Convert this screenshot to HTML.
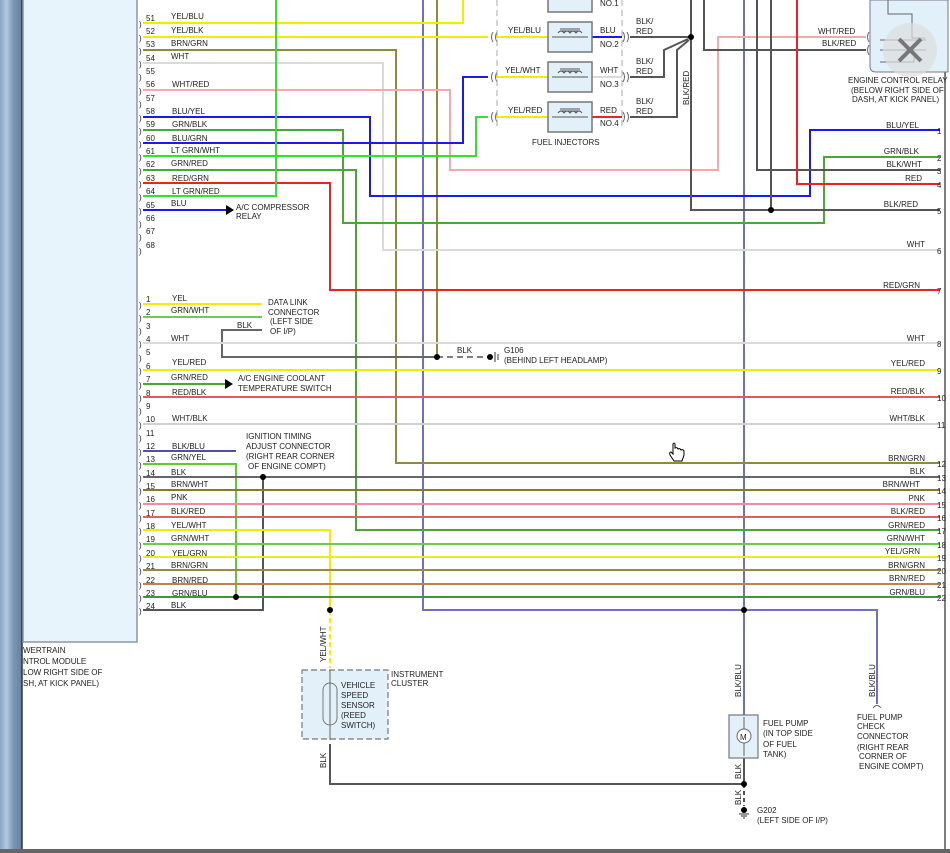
<!DOCTYPE html>
<html><head><meta charset="utf-8"><style>
html,body{margin:0;padding:0;background:#fff;}
svg{display:block;}
text{font-family:"Liberation Sans",sans-serif;font-size:8px;fill:#222;}
</style></head><body>
<svg width="950" height="853" viewBox="0 0 950 853" xmlns="http://www.w3.org/2000/svg">
<defs>
<linearGradient id="lg" x1="0" x2="1" y1="0" y2="0">
<stop offset="0" stop-color="#8aa4c4"/><stop offset="0.3" stop-color="#b4cae4"/><stop offset="0.6" stop-color="#7c96b6"/><stop offset="1" stop-color="#667f9e"/></linearGradient>
</defs>
<rect x="0" y="0" width="950" height="853" fill="#fff"/>
<rect x="0" y="0" width="22" height="853" fill="url(#lg)"/>
<line x1="22" y1="0" x2="22" y2="853" stroke="#2a3442" stroke-width="1.5"/>
<rect x="23" y="-2" width="114" height="644" fill="#e8f4fc" stroke="#8898a8" stroke-width="1.5"/>
<text x="23" y="653">WERTRAIN</text>
<text x="23" y="664">NTROL MODULE</text>
<text x="23" y="675">LOW RIGHT SIDE OF</text>
<text x="23" y="686">SH, AT KICK PANEL)</text>
<line x1="945" y1="0" x2="945" y2="853" stroke="#555" stroke-width="1.5"/>
<rect x="0" y="849" width="950" height="4" fill="#666"/>

<g fill="none" stroke-width="2">
<polyline points="423,0 423,610 877,610 877,704" stroke="#7070c0"/>
<line x1="744" y1="0" x2="744" y2="715" stroke="#7070c0"/>
<line x1="437" y1="0" x2="437" y2="357" stroke="#8c8c3c"/>
<polyline points="143,23 463,23 463,0" stroke="#eeee00"/>
<line x1="143" y1="37" x2="488" y2="37" stroke="#eeee00"/>
<polyline points="143,50 396,50 396,463 940,463" stroke="#8c8c3c"/>
<polyline points="143,63 383,63 383,250 940,250" stroke="#dadada"/>
<polyline points="143,90 450,90 450,170 718,170 718,37 866,37" stroke="#f4a8a8"/>
<polyline points="143,117 370,117 370,196 810,196 810,130 940,130" stroke="#1a1aee"/>
<polyline points="143,130 343,130 343,223 824,223 824,157 940,157" stroke="#4aa832"/>
<polyline points="143,143 463,143 463,77 488,77" stroke="#1a1aee"/>
<polyline points="143,156 476,156 476,117 488,117" stroke="#33e033"/>
<polyline points="143,170 356,170 356,530 940,530" stroke="#4aa832"/>
<polyline points="143,183 330,183 330,290 940,290" stroke="#ee2222"/>
<polyline points="143,196 276,196 276,0" stroke="#33e033"/>
<line x1="143" y1="210" x2="226" y2="210" stroke="#1a1aee"/>
<polyline points="691,0 691,210 940,210" stroke="#555"/>
<line x1="771" y1="0" x2="771" y2="210" stroke="#555"/>
<polyline points="704,0 704,50 866,50" stroke="#555"/>
<polyline points="757,0 757,170 940,170" stroke="#555"/>
<polyline points="797,0 797,184 940,184" stroke="#ee2222"/>
<line x1="630" y1="37" x2="691" y2="37" stroke="#555"/>
<polyline points="630,77 664,77 664,50 688,39" stroke="#555"/>
<polyline points="630,117 677,117 677,50 689,40" stroke="#555"/>
<line x1="592" y1="37" x2="622" y2="37" stroke="#1a1aee"/>
<line x1="592" y1="77" x2="622" y2="77" stroke="#dadada"/>
<line x1="592" y1="117" x2="622" y2="117" stroke="#ee2222"/>
<line x1="496" y1="37" x2="548" y2="37" stroke="#eeee00"/>
<line x1="496" y1="77" x2="548" y2="77" stroke="#eeee00"/>
<line x1="496" y1="117" x2="548" y2="117" stroke="#eeee00"/>
<line x1="143" y1="304" x2="262" y2="304" stroke="#eeee00"/>
<line x1="143" y1="317" x2="262" y2="317" stroke="#6ccc50"/>
<polyline points="262,330 222,330 222,357 437,357" stroke="#666"/>
<line x1="143" y1="343" x2="940" y2="343" stroke="#dadada"/>
<line x1="143" y1="370" x2="940" y2="370" stroke="#eeee00"/>
<line x1="143" y1="384" x2="225" y2="384" stroke="#4aa832"/>
<line x1="143" y1="397" x2="940" y2="397" stroke="#ee5555"/>
<line x1="143" y1="424" x2="940" y2="424" stroke="#d0d0d0"/>
<line x1="143" y1="451" x2="236" y2="451" stroke="#5050a0"/>
<polyline points="143,464 236,464 236,597" stroke="#5ccc30"/>
<line x1="143" y1="477" x2="940" y2="477" stroke="#666"/>
<polyline points="263,477 263,610 143,610" stroke="#555"/>
<line x1="143" y1="490" x2="940" y2="490" stroke="#8a7a20"/>
<line x1="143" y1="504" x2="940" y2="504" stroke="#f48aa0"/>
<line x1="143" y1="517" x2="940" y2="517" stroke="#e06060"/>
<polyline points="143,530 330,530 330,610" stroke="#eeee00"/>
<line x1="143" y1="544" x2="940" y2="544" stroke="#6ccc50"/>
<line x1="143" y1="557" x2="940" y2="557" stroke="#e0f020"/>
<line x1="143" y1="570" x2="940" y2="570" stroke="#9a8a40"/>
<line x1="143" y1="584" x2="940" y2="584" stroke="#c08050"/>
<line x1="143" y1="597" x2="940" y2="597" stroke="#3a9a3a"/>
<line x1="330" y1="610" x2="330" y2="668" stroke="#eeee00" stroke-dasharray="5,3"/>
<polyline points="330,744 330,784 744,784" stroke="#555"/>
<line x1="744" y1="758" x2="744" y2="784" stroke="#555"/>
<line x1="744" y1="784" x2="744" y2="806" stroke="#555" stroke-dasharray="4,3"/>
<line x1="437" y1="357" x2="490" y2="357" stroke="#555" stroke-dasharray="6,4" stroke-width="1.5"/>
</g>
<!-- connector glyphs -->
<g fill="none" stroke="#666" stroke-width="1">
<path d="M493,32 q-3,5 0,10 M497,32 q-3,5 0,10"/>
<path d="M493,72 q-3,5 0,10 M497,72 q-3,5 0,10"/>
<path d="M493,112 q-3,5 0,10 M497,112 q-3,5 0,10"/>
<path d="M623,32 q3,5 0,10 M627,32 q3,5 0,10"/>
<path d="M623,72 q3,5 0,10 M627,72 q3,5 0,10"/>
<path d="M623,112 q3,5 0,10 M627,112 q3,5 0,10"/>
<path d="M869,32 q-3,5 0,10 M869,45 q-3,5 0,10"/>
<path d="M873,708 q4,-5 8,0"/>
</g>
<g fill="#000">
<circle cx="691" cy="37" r="3"/><circle cx="771" cy="210" r="3"/>
<circle cx="437" cy="357" r="3"/><circle cx="490" cy="357" r="3"/>
<circle cx="263" cy="477" r="3"/><circle cx="236" cy="597" r="3"/>
<circle cx="330" cy="610" r="3"/><circle cx="744" cy="610" r="3"/>
<circle cx="744" cy="784" r="3"/><circle cx="744" cy="810" r="3"/>
</g>
<path d="M226,205 L234,210 L226,215 Z" fill="#000"/>
<path d="M225,379 L233,384 L225,389 Z" fill="#000"/>
<path d="M495,352 v10 M498,354 v6" stroke="#333" stroke-width="1"/>
<path d="M739,814 h10 M741,816 h6 M743,818 h2" stroke="#333" stroke-width="1"/>

<g stroke="#aaa" stroke-dasharray="6,4" stroke-width="1"><line x1="497" y1="0" x2="497" y2="130"/><line x1="622" y1="0" x2="622" y2="130"/></g>
<g fill="#e2f0fa" stroke="#777" stroke-width="1.5">
<rect x="548" y="-18" width="44" height="30"/>
<rect x="548" y="22" width="44" height="30"/>
<rect x="548" y="62" width="44" height="30"/>
<rect x="548" y="102" width="44" height="30"/>
</g>
<g stroke="#555" stroke-width="1" fill="none">
<path d="M552,37 H588 M558,33 q3,-4 6,0 q3,-4 6,0 q3,-4 6,0 q3,-4 6,0 M560,29 H580 M560,31 H580"/>
<path d="M552,77 H588 M558,73 q3,-4 6,0 q3,-4 6,0 q3,-4 6,0 q3,-4 6,0 M560,69 H580 M560,71 H580"/>
<path d="M552,117 H588 M558,113 q3,-4 6,0 q3,-4 6,0 q3,-4 6,0 q3,-4 6,0 M560,109 H580 M560,111 H580"/>
</g>
<g font-size="8">
<text x="508" y="33">YEL/BLU</text><text x="505" y="73">YEL/WHT</text><text x="508" y="113">YEL/RED</text>
<text x="600" y="6">NO.1</text>
<text x="600" y="33">BLU</text><text x="600" y="47">NO.2</text>
<text x="600" y="73">WHT</text><text x="600" y="87">NO.3</text>
<text x="600" y="113">RED</text><text x="600" y="126">NO.4</text>
<text x="636" y="24">BLK/</text><text x="636" y="34">RED</text>
<text x="636" y="64">BLK/</text><text x="636" y="74">RED</text>
<text x="636" y="104">BLK/</text><text x="636" y="114">RED</text>
<text x="532" y="145">FUEL INJECTORS</text>
<text transform="translate(689,105) rotate(-90)">BLK/RED</text>
</g>
<path d="M870,0 H948 V72 H876 Q870,72 870,66 Z" fill="#e2f0fa" stroke="#778" stroke-width="1"/>
<path d="M888,0 V14 H912 V38 H925 M880,40 H926 M880,50 H926 M880,62 H914 V50" stroke="#666" fill="none" stroke-width="1"/>
<circle cx="910" cy="50" r="27" fill="#ddd" opacity="0.7"/>
<path d="M899,39 L921,61 M921,39 L899,61" stroke="#777" stroke-width="4"/>
<text x="818" y="34">WHT/RED</text><text x="822" y="46">BLK/RED</text>
<text x="848" y="83">ENGINE CONTROL RELAY</text>
<text x="851" y="93">(BELOW RIGHT SIDE OF</text>
<text x="852" y="102">DASH, AT KICK PANEL)</text>

<g font-size="8">
<text x="139" y="27">)</text><text x="139" y="41">)</text><text x="139" y="54">)</text><text x="139" y="67">)</text><text x="139" y="80">)</text><text x="139" y="94">)</text><text x="139" y="107">)</text><text x="139" y="121">)</text><text x="139" y="134">)</text><text x="139" y="147">)</text><text x="139" y="160">)</text><text x="139" y="174">)</text><text x="139" y="187">)</text><text x="139" y="200">)</text><text x="139" y="214">)</text><text x="139" y="227">)</text><text x="139" y="240">)</text><text x="139" y="254">)</text>
<text x="146" y="21">51</text><text x="146" y="34">52</text><text x="146" y="47">53</text><text x="146" y="61">54</text><text x="146" y="74">55</text><text x="146" y="87">56</text><text x="146" y="101">57</text><text x="146" y="114">58</text><text x="146" y="127">59</text><text x="146" y="141">60</text><text x="146" y="154">61</text><text x="146" y="167">62</text><text x="146" y="181">63</text><text x="146" y="194">64</text><text x="146" y="208">65</text><text x="146" y="221">66</text><text x="146" y="234">67</text><text x="146" y="248">68</text>
<text x="171" y="19">YEL/BLU</text><text x="171" y="33">YEL/BLK</text><text x="171" y="46">BRN/GRN</text><text x="171" y="59">WHT</text><text x="172" y="87">WHT/RED</text><text x="172" y="114">BLU/YEL</text><text x="172" y="127">GRN/BLK</text><text x="172" y="141">BLU/GRN</text><text x="171" y="153">LT GRN/WHT</text><text x="171" y="166">GRN/RED</text><text x="172" y="181">RED/GRN</text><text x="172" y="194">LT GRN/RED</text><text x="171" y="206">BLU</text>
<text x="236" y="210">A/C COMPRESSOR</text><text x="236" y="219">RELAY</text>

<text x="139" y="308">)</text><text x="139" y="321">)</text><text x="139" y="334">)</text><text x="139" y="347">)</text><text x="139" y="361">)</text><text x="139" y="374">)</text><text x="139" y="388">)</text><text x="139" y="401">)</text><text x="139" y="414">)</text><text x="139" y="428">)</text><text x="139" y="441">)</text><text x="139" y="455">)</text><text x="139" y="468">)</text><text x="139" y="481">)</text><text x="139" y="494">)</text><text x="139" y="508">)</text><text x="139" y="521">)</text><text x="139" y="534">)</text><text x="139" y="548">)</text><text x="139" y="561">)</text><text x="139" y="574">)</text><text x="139" y="588">)</text><text x="139" y="601">)</text><text x="139" y="614">)</text>
<text x="146" y="302">1</text><text x="146" y="315">2</text><text x="146" y="329">3</text><text x="146" y="342">4</text><text x="146" y="355">5</text><text x="146" y="369">6</text><text x="146" y="382">7</text><text x="146" y="396">8</text><text x="146" y="409">9</text><text x="146" y="422">10</text><text x="146" y="436">11</text><text x="146" y="449">12</text><text x="146" y="462">13</text><text x="146" y="476">14</text><text x="146" y="489">15</text><text x="146" y="502">16</text><text x="146" y="516">17</text><text x="146" y="529">18</text><text x="146" y="542">19</text><text x="146" y="556">20</text><text x="146" y="569">21</text><text x="146" y="583">22</text><text x="146" y="596">23</text><text x="146" y="609">24</text>
<text x="172" y="301">YEL</text><text x="171" y="313">GRN/WHT</text><text x="171" y="341">WHT</text><text x="172" y="365">YEL/RED</text><text x="171" y="380">GRN/RED</text><text x="172" y="395">RED/BLK</text><text x="172" y="421">WHT/BLK</text><text x="172" y="449">BLK/BLU</text><text x="171" y="460">GRN/YEL</text><text x="171" y="475">BLK</text><text x="171" y="487">BRN/WHT</text><text x="171" y="500">PNK</text><text x="171" y="514">BLK/RED</text><text x="171" y="528">YEL/WHT</text><text x="171" y="541">GRN/WHT</text><text x="172" y="556">YEL/GRN</text><text x="171" y="568">BRN/GRN</text><text x="172" y="583">BRN/RED</text><text x="172" y="596">GRN/BLU</text><text x="171" y="608">BLK</text>
<text x="237" y="328">BLK</text>
<text x="268" y="305">DATA LINK</text><text x="268" y="315">CONNECTOR</text><text x="270" y="324">(LEFT SIDE</text><text x="270" y="334">OF I/P)</text>
<text x="238" y="381">A/C ENGINE COOLANT</text><text x="238" y="391">TEMPERATURE SWITCH</text>
<text x="246" y="439">IGNITION TIMING</text><text x="246" y="449">ADJUST CONNECTOR</text><text x="246" y="459">(RIGHT REAR CORNER</text><text x="248" y="469">OF ENGINE COMPT)</text>
<text x="457" y="353">BLK</text>
<text x="504" y="353">G106</text><text x="504" y="363">(BEHIND LEFT HEADLAMP)</text>
</g>
<g font-size="8">
<text x="919" y="128" text-anchor="end">BLU/YEL</text><text x="919" y="154" text-anchor="end">GRN/BLK</text><text x="922" y="167" text-anchor="end">BLK/WHT</text><text x="922" y="181" text-anchor="end">RED</text><text x="918" y="207" text-anchor="end">BLK/RED</text><text x="925" y="247" text-anchor="end">WHT</text><text x="920" y="288" text-anchor="end">RED/GRN</text>
<text x="925" y="341" text-anchor="end">WHT</text><text x="925" y="366" text-anchor="end">YEL/RED</text><text x="925" y="394" text-anchor="end">RED/BLK</text><text x="925" y="421" text-anchor="end">WHT/BLK</text><text x="925" y="461" text-anchor="end">BRN/GRN</text><text x="925" y="474" text-anchor="end">BLK</text><text x="920" y="487" text-anchor="end">BRN/WHT</text><text x="925" y="501" text-anchor="end">PNK</text><text x="925" y="514" text-anchor="end">BLK/RED</text><text x="925" y="528" text-anchor="end">GRN/RED</text><text x="925" y="541" text-anchor="end">GRN/WHT</text><text x="920" y="554" text-anchor="end">YEL/GRN</text><text x="925" y="568" text-anchor="end">BRN/GRN</text><text x="925" y="581" text-anchor="end">BRN/RED</text><text x="925" y="595" text-anchor="end">GRN/BLU</text>
<text x="937" y="134">1</text><text x="937" y="161">2</text><text x="937" y="174">3</text><text x="937" y="188">4</text><text x="937" y="214">5</text><text x="937" y="254">6</text><text x="937" y="294">7</text><text x="937" y="347">8</text><text x="937" y="374">9</text><text x="937" y="401">10</text><text x="937" y="428">11</text><text x="937" y="467">12</text><text x="937" y="481">13</text><text x="937" y="494">14</text><text x="937" y="508">15</text><text x="937" y="521">16</text><text x="937" y="534">17</text><text x="937" y="548">18</text><text x="937" y="561">19</text><text x="937" y="574">20</text><text x="937" y="588">21</text><text x="937" y="601">22</text>
</g>
<rect x="302" y="670" width="86" height="69" fill="#e2f0fa" stroke="#777" stroke-dasharray="6,3" stroke-width="1.2"/>
<line x1="330" y1="670" x2="330" y2="740" stroke="#666" stroke-width="1"/>
<rect x="323" y="683" width="14" height="42" rx="7" fill="none" stroke="#777" stroke-width="1"/>
<text transform="translate(326,662) rotate(-90)" font-size="7.5">YEL/WHT</text>
<text transform="translate(326,768) rotate(-90)" font-size="7.5">BLK</text>
<g font-size="8"><text x="341" y="688">VEHICLE</text><text x="341" y="698">SPEED</text><text x="341" y="708">SENSOR</text><text x="341" y="718">(REED</text><text x="341" y="728">SWITCH)</text>
<text x="391" y="677">INSTRUMENT</text><text x="391" y="686">CLUSTER</text></g>
<rect x="729" y="715" width="29" height="43" fill="#e2f0fa" stroke="#777" stroke-width="1.2"/>
<circle cx="744" cy="736" r="7" fill="#fff" stroke="#666" stroke-width="1"/>
<text x="740" y="740" font-size="8">M</text>
<line x1="744" y1="717" x2="744" y2="729" stroke="#666" stroke-width="1"/><line x1="744" y1="743" x2="744" y2="756" stroke="#666" stroke-width="1"/>
<text transform="translate(741,697) rotate(-90)" font-size="7.5">BLK/BLU</text>
<text transform="translate(875,697) rotate(-90)" font-size="7.5">BLK/BLU</text>
<text transform="translate(741,779) rotate(-90)" font-size="7.5">BLK</text>
<text transform="translate(741,805) rotate(-90)" font-size="7.5">BLK</text>
<g font-size="8"><text x="763" y="726">FUEL PUMP</text><text x="763" y="736">(IN TOP SIDE</text><text x="763" y="747">OF FUEL</text><text x="763" y="757">TANK)</text>
<text x="857" y="720">FUEL PUMP</text><text x="857" y="729">CHECK</text><text x="857" y="739">CONNECTOR</text><text x="857" y="750">(RIGHT REAR</text><text x="859" y="759">CORNER OF</text><text x="859" y="769">ENGINE COMPT)</text>
<text x="757" y="813">G202</text><text x="757" y="823">(LEFT SIDE OF I/P)</text></g>
<path d="M673,444 v10 l-2,-2 q-2,0 -1,3 l4,6 h8 l2,-6 v-4 q-1,-2 -3,-1 q-1,-2 -3,-1 q-1,-2 -3,-1 v-4 q-1,-2 -2,0 z" fill="#fff" stroke="#000" stroke-width="1"/>
</svg>
</body></html>
